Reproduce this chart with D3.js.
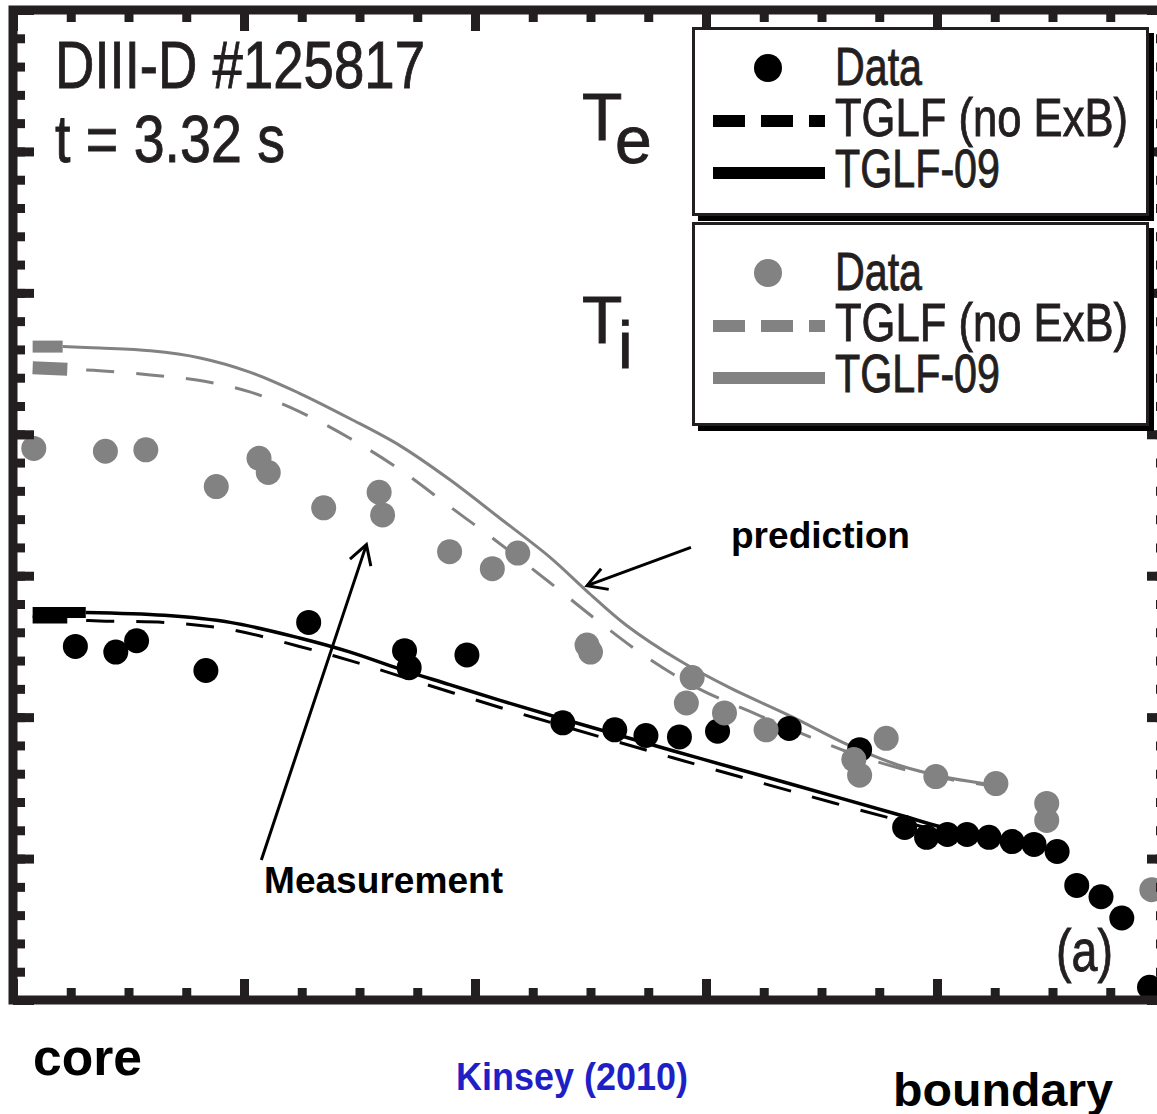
<!DOCTYPE html>
<html>
<head>
<meta charset="utf-8">
<script src="https://cdn.jsdelivr.net/npm/d3@7"></script>
<style>
	body { margin: 0; background: #fff; }
	svg { display: block; }
	.narrow { font-family: "Liberation Sans Narrow", "Arial Narrow", "Liberation Sans", Arial, sans-serif; fill: #231f20; stroke: #231f20; stroke-width: 0.9px; }
	.bold { font-family: "Liberation Sans", Arial, Helvetica, sans-serif; font-weight: bold; fill: #000; }
</style>
</head>
<body>
<svg id="chart" width="1157" height="1114"></svg>
<script>
// x: normalised radius (core -> boundary), y: temperature (arb. units)
var teData = [[0.054, 2.50], [0.089, 2.46], [0.107, 2.54], [0.167, 2.33], [0.256, 2.67], [0.339, 2.47], [0.343, 2.35],
	[0.393, 2.44], [0.476, 1.96], [0.521, 1.91], [0.548, 1.87], [0.577, 1.86], [0.610, 1.90], [0.672, 1.92],
	[0.733, 1.77], [0.772, 1.22], [0.791, 1.15], [0.809, 1.17], [0.826, 1.17], [0.845, 1.15], [0.865, 1.12],
	[0.884, 1.10], [0.904, 1.05], [0.921, 0.81], [0.942, 0.73], [0.960, 0.58], [0.984, 0.09]];
var tiData = [[0.018, 3.90], [0.080, 3.88], [0.115, 3.89], [0.176, 3.63], [0.213, 3.83], [0.221, 3.73], [0.269, 3.48],
	[0.317, 3.59], [0.320, 3.43], [0.378, 3.17], [0.415, 3.05], [0.437, 3.16], [0.497, 2.51], [0.500, 2.46],
	[0.588, 2.28], [0.583, 2.10], [0.616, 2.03], [0.652, 1.91], [0.756, 1.85], [0.728, 1.70], [0.733, 1.59],
	[0.799, 1.58], [0.851, 1.53], [0.895, 1.39], [0.895, 1.27], [0.986, 0.78]];

var tiTglf09 = [[0.017, 4.62], [0.043, 4.62], [0.075, 4.61], [0.119, 4.59], [0.162, 4.54], [0.205, 4.44], [0.248, 4.29],
	[0.292, 4.11], [0.335, 3.92], [0.378, 3.68], [0.421, 3.41], [0.465, 3.13], [0.497, 2.89], [0.531, 2.65],
	[0.577, 2.40], [0.620, 2.21], [0.675, 2.00], [0.724, 1.80], [0.767, 1.66], [0.811, 1.57], [0.851, 1.52]];
var tiTglfNoExB = [[0.017, 4.47], [0.047, 4.46], [0.075, 4.45], [0.119, 4.42], [0.162, 4.38], [0.205, 4.30], [0.248, 4.16],
	[0.292, 3.97], [0.335, 3.75], [0.378, 3.49], [0.421, 3.23], [0.465, 2.95], [0.508, 2.67], [0.551, 2.41],
	[0.594, 2.20], [0.638, 2.04], [0.681, 1.89], [0.724, 1.75], [0.767, 1.64], [0.811, 1.56], [0.851, 1.51]];
var teTglf09 = [[0.017, 2.74], [0.063, 2.74], [0.131, 2.72], [0.188, 2.67], [0.248, 2.56], [0.292, 2.46], [0.335, 2.34],
	[0.378, 2.23], [0.421, 2.12], [0.479, 1.98], [0.551, 1.81], [0.594, 1.71], [0.681, 1.51], [0.767, 1.31],
	[0.811, 1.21], [0.845, 1.18]];
var teTglfNoExB = [[0.017, 2.69], [0.047, 2.69], [0.075, 2.68], [0.131, 2.67], [0.188, 2.62], [0.248, 2.50], [0.292, 2.40],
	[0.335, 2.29], [0.421, 2.07], [0.479, 1.93], [0.551, 1.76], [0.594, 1.66], [0.681, 1.46], [0.767, 1.27],
	[0.811, 1.18], [0.845, 1.15]];

var legendLabels = ['Data', 'TGLF (no ExB)', 'TGLF-09'];
var xMajorTicks = d3.range(0, 1.001, 0.2);
var xMinorTicks = d3.range(0, 1.001, 0.05);
var yMajorTicks = d3.range(0, 7.001, 1);
var yMinorTicks = d3.range(0, 7.001, 0.2);

// arrow annotations, in data units
var arrowNotes = [
	{ from: [0.215, 0.99], to: [0.306, 3.22] },
	{ from: [0.587, 3.20], to: [0.497, 2.93] }
];

const INK = '#231f20';
const GREY = '#828282';

const ProfileChart = {
	svg: null,
	x: null,
	y: null,

	init: function() {
		this.svg = d3.select('#chart');
		this.x = d3.scaleLinear().domain([0, 1]).range([13, 1168]);
		this.y = d3.scaleLinear().domain([0, 7]).range([1000, 10]);
	},
	drawFrame: function() {
		var self = this;

		self.svg.append('rect')
			.attr('x', self.x(0)).attr('y', self.y(7))
			.attr('width', self.x(1) - self.x(0))
			.attr('height', self.y(0) - self.y(7))
			.attr('fill', 'none')
			.attr('stroke', INK)
			.attr('stroke-width', 9);

		var axes = [
			{ make: d3.axisBottom, scale: self.x, at: 'translate(0,' + self.y(7) + ')', minor: xMinorTicks, major: xMajorTicks },
			{ make: d3.axisTop, scale: self.x, at: 'translate(0,' + self.y(0) + ')', minor: xMinorTicks, major: xMajorTicks },
			{ make: d3.axisRight, scale: self.y, at: 'translate(' + self.x(0) + ',0)', minor: yMinorTicks, major: yMajorTicks },
			{ make: d3.axisLeft, scale: self.y, at: 'translate(' + self.x(1) + ',0)', minor: yMinorTicks, major: yMajorTicks }
		];

		axes.forEach(function(a) {
			[[a.minor, 12], [a.major, 21]].forEach(function(t) {
				var g = self.svg.append('g')
					.attr('transform', a.at)
					.call(a.make(a.scale).tickValues(t[0]).tickSize(t[1]).tickFormat(''));
				g.select('.domain').remove();
				g.selectAll('.tick line')
					.attr('stroke', INK)
					.attr('stroke-width', 9);
			});
		});
	},
	drawLines: function() {
		var self = this;
		var line = d3.line()
			.x(function(d) { return self.x(d[0]); })
			.y(function(d) { return self.y(d[1]); })
			.curve(d3.curveCatmullRom.alpha(0.5));

		var series = [
			{ data: tiTglfNoExB, color: GREY, width: 3, dash: '28,22', stub: 13 },
			{ data: tiTglf09, color: GREY, width: 3, dash: null, stub: 12 },
			{ data: teTglfNoExB, color: '#000', width: 3, dash: '28,22', stub: 8 },
			{ data: teTglf09, color: '#000', width: 3.5, dash: null, stub: 11 }
		];

		series.forEach(function(s) {
			// the first segment is drawn as a thick stub, as in the original
			self.svg.append('path')
				.attr('d', line(s.data.slice(0, 2)))
				.attr('fill', 'none')
				.attr('stroke', s.color)
				.attr('stroke-width', s.stub);

			self.svg.append('path')
				.attr('d', line(s.data.slice(1)))
				.attr('fill', 'none')
				.attr('stroke', s.color)
				.attr('stroke-width', s.width)
				.attr('stroke-dasharray', s.dash)
				.attr('stroke-dashoffset', s.dash ? 31 : null);
		});
	},
	drawPoints: function() {
		var self = this;

		[[teData, '#000'], [tiData, GREY]].forEach(function(p) {
			self.svg.append('g')
				.selectAll('circle')
				.data(p[0])
				.enter()
				.append('circle')
				.attr('cx', function(d) { return self.x(d[0]); })
				.attr('cy', function(d) { return self.y(d[1]); })
				.attr('r', 12.5)
				.attr('fill', p[1]);
		});
	},
	drawLegend: function() {
		var self = this;
		var boxes = [
			{ top: 27, bottom: 215, color: '#000', base: 85 },
			{ top: 222, bottom: 425, color: GREY, base: 290 }
		];

		boxes.forEach(function(b) {
			var g = self.svg.append('g');

			g.append('rect')
				.attr('x', 698).attr('y', b.top + 6)
				.attr('width', 456).attr('height', b.bottom - b.top)
				.attr('fill', '#000');
			g.append('rect')
				.attr('x', 693.5).attr('y', b.top + 1.5)
				.attr('width', 454).attr('height', b.bottom - b.top - 2)
				.attr('fill', '#fff')
				.attr('stroke', INK)
				.attr('stroke-width', 3);

			g.append('circle')
				.attr('cx', 768).attr('cy', b.base - 17)
				.attr('r', 14)
				.attr('fill', b.color);
			g.append('line')
				.attr('x1', 713).attr('x2', 825)
				.attr('y1', b.base + 51 - 15).attr('y2', b.base + 51 - 15)
				.attr('stroke', b.color)
				.attr('stroke-width', 12)
				.attr('stroke-dasharray', '32,16');
			g.append('line')
				.attr('x1', 713).attr('x2', 825)
				.attr('y1', b.base + 102 - 14).attr('y2', b.base + 102 - 14)
				.attr('stroke', b.color)
				.attr('stroke-width', 12);

			var widths = [87, 293, 165];
			legendLabels.forEach(function(label, i) {
				g.append('text')
					.attr('class', 'narrow')
					.attr('x', 835)
					.attr('y', b.base + i * 51)
					.attr('font-size', 53)
					.attr('textLength', widths[i])
					.attr('lengthAdjust', 'spacingAndGlyphs')
					.text(label);
			});
		});
	},
	drawLabels: function() {
		var svg = this.svg;
		var narrow = [
			{ text: 'DIII-D #125817', x: 55, y: 88, size: 66, len: 370 },
			{ text: 't = 3.32 s', x: 55, y: 162, size: 66, len: 230 },
			{ text: 'T', x: 582, y: 140, size: 66 },
			{ text: 'e', x: 615, y: 163, size: 66 },
			{ text: 'T', x: 582, y: 343, size: 66 },
			{ text: 'i', x: 618, y: 368, size: 66 },
			{ text: '(a)', x: 1056, y: 971, size: 60, len: 57 }
		];
		var bold = [
			{ text: 'prediction', x: 731, y: 548, size: 37, len: 179 },
			{ text: 'Measurement', x: 264, y: 893, size: 37, len: 239 },
			{ text: 'core', x: 33, y: 1075, size: 52, len: 109 },
			{ text: 'Kinsey (2010)', x: 456, y: 1090, size: 38, len: 232, fill: '#1f1fc6' },
			{ text: 'boundary', x: 893, y: 1106, size: 47, len: 220 }
		];

		narrow.forEach(function(t) {
			svg.append('text')
				.attr('class', 'narrow')
				.attr('x', t.x).attr('y', t.y)
				.attr('font-size', t.size)
				.attr('textLength', t.len || null)
				.attr('lengthAdjust', t.len ? 'spacingAndGlyphs' : null)
				.text(t.text);
		});
		bold.forEach(function(t) {
			svg.append('text')
				.attr('class', 'bold')
				.attr('x', t.x).attr('y', t.y)
				.attr('font-size', t.size)
				.attr('textLength', t.len)
				.attr('lengthAdjust', 'spacingAndGlyphs')
				.style('fill', t.fill || '#000')
				.text(t.text);
		});
	},
	drawArrows: function() {
		var self = this;

		arrowNotes.forEach(function(a) {
			var x1 = self.x(a.from[0]), y1 = self.y(a.from[1]);
			var x2 = self.x(a.to[0]), y2 = self.y(a.to[1]);
			var ang = Math.atan2(y2 - y1, x2 - x1);
			var len = 22, spread = Math.PI / 6;
			var head = [
				[x2 - len * Math.cos(ang - spread), y2 - len * Math.sin(ang - spread)],
				[x2, y2],
				[x2 - len * Math.cos(ang + spread), y2 - len * Math.sin(ang + spread)]
			];

			self.svg.append('line')
				.attr('x1', x1).attr('y1', y1)
				.attr('x2', x2).attr('y2', y2)
				.attr('stroke', '#000')
				.attr('stroke-width', 3);
			self.svg.append('polyline')
				.attr('points', head.map(function(p) { return p.join(','); }).join(' '))
				.attr('fill', 'none')
				.attr('stroke', '#000')
				.attr('stroke-width', 3);
		});
	}
};

ProfileChart.init();
ProfileChart.drawLines();
ProfileChart.drawPoints();
ProfileChart.drawFrame();
ProfileChart.drawLegend();
ProfileChart.drawLabels();
ProfileChart.drawArrows();
</script>
</body>
</html>
